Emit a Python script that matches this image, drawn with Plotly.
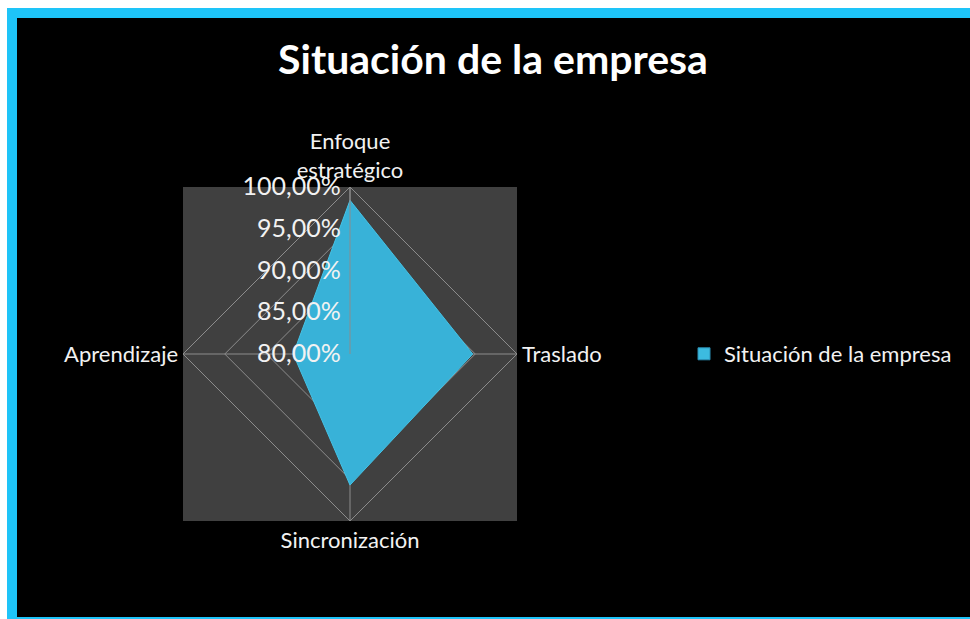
import plotly.graph_objects as go

W, H = 970, 619

categories = ["Enfoque<br>estratégico", "Traslado", "Sincronización", "Aprendizaje"]
values = [0.984, 0.947, 0.957, 0.868]
series_name = "Situación de la empresa"
tick_vals = [0.80, 0.85, 0.90, 0.95, 1.00]


def px_x(x):
    return x / W


def px_y(y):
    return 1 - y / H


fig = go.Figure()
fig.add_trace(go.Scatterpolar(
    r=values + values[:1],
    theta=categories + categories[:1],
    mode="lines",
    fill="toself",
    fillcolor="#38b2d8",
    line=dict(color="#45c3e6", width=1),
    name=series_name,
    showlegend=False,
))
# legend entry with a square swatch
fig.add_trace(go.Scatterpolar(
    r=[None], theta=[None], mode="markers", name=series_name,
    marker=dict(symbol="square", size=12, color="#3cbbe0",
                line=dict(color="#2a8fb5", width=1)),
    showlegend=True,
))

# frame: cyan border (left, top, bottom), black panel, gray plot square
fig.add_shape(type="rect", xref="paper", yref="paper", layer="below",
              x0=px_x(7), y0=0, x1=1, y1=px_y(8),
              fillcolor="#1ec4f8", line_width=0)
fig.add_shape(type="rect", xref="paper", yref="paper", layer="below",
              x0=px_x(17), y0=px_y(617), x1=1, y1=px_y(18),
              fillcolor="#000000", line_width=0)
fig.add_shape(type="rect", xref="paper", yref="paper", layer="below",
              x0=px_x(183), y0=px_y(521), x1=px_x(517), y1=px_y(187),
              fillcolor="#404040", line_width=0)

fig.update_layout(
    width=W, height=H,
    margin=dict(l=0, r=0, t=0, b=0),
    paper_bgcolor="#ffffff",
    separators=",.",
    font=dict(family="Lato", color="#f2f2f2", size=22),
    title=dict(text="<b>Situación de la empresa</b>", x=px_x(493), xanchor="center",
               y=px_y(60), yanchor="middle", yref="container",
               font=dict(family="Lato", size=41, color="#ffffff")),
    legend=dict(x=px_x(684), y=px_y(354), xanchor="left", yanchor="middle",
                bgcolor="rgba(0,0,0,0)", font=dict(size=22, color="#f2f2f2")),
    polar=dict(
        domain=dict(x=[px_x(183), px_x(517)], y=[px_y(521), px_y(187)]),
        bgcolor="#404040",
        gridshape="linear",
        radialaxis=dict(range=[0.8, 1.0], angle=90, tickangle=90,
                        side="counterclockwise",
                        tickvals=tick_vals, tickformat=".2%",
                        showline=True, linecolor="#8c8c8c", ticks="",
                        gridcolor="#8c8c8c", gridwidth=1,
                        tickfont=dict(size=25, color="#f2f2f2")),
        angularaxis=dict(rotation=90, direction="clockwise",
                         showline=True, linecolor="#8c8c8c",
                         gridcolor="#8c8c8c", ticks="",
                         tickfont=dict(size=22, color="#f2f2f2")),
    ),
)

fig.write_html("out.html", config={"displayModeBar": False},
               post_script="document.body.style.margin='0';"
                           "document.body.style.overflow='hidden';")
